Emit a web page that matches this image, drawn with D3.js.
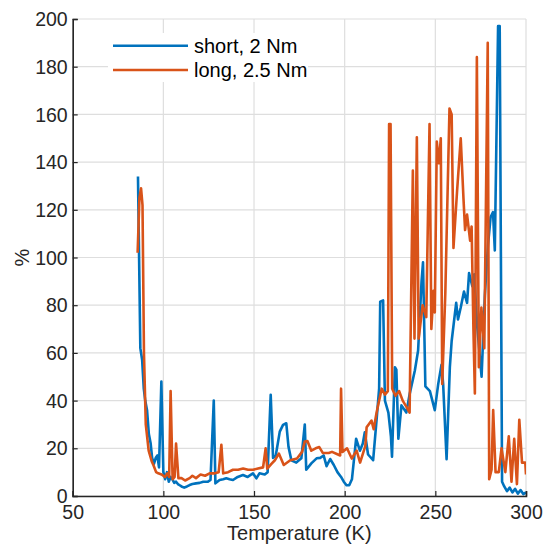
<!DOCTYPE html>
<html>
<head>
<meta charset="utf-8">
<script src="https://cdn.jsdelivr.net/npm/d3@7"></script>
<style>
  body { margin: 0; background: #fff; }
  svg { font-family: "Liberation Sans", Arial, sans-serif; }
  .tick text { fill: #262626; font-size: 19.5px; }
</style>
</head>
<body>
<svg class="chart" width="544" height="545"></svg>
<script>
const seriesNames = ['short, 2 Nm', 'long, 2.5 Nm'];

const xTicks = [50, 100, 150, 200, 250, 300];
const yTicks = [0, 20, 40, 60, 80, 100, 120, 140, 160, 180, 200];

// short, 2 Nm
const shortTemp = [86, 87.3, 88.3, 89.2, 90, 91, 92, 93, 93.8, 94.8, 95.8, 96.7, 97.6, 98.9, 100, 101, 102, 103, 104, 105,
  106, 107, 108, 109, 110, 111.5, 113, 114.5, 116, 118, 120, 122, 124.6, 126, 127.8, 128.7, 131, 133, 134.7, 136.5,
  138.4, 141, 143.9, 146.5, 149.4, 151.3, 153, 155.9, 157.5, 159.2, 160.5, 162, 164.2, 166, 167.8, 169, 170.6, 173.3, 176.1, 178,
  178.8, 181.6, 184.5, 186.5, 188.4, 190, 192, 194, 196, 198, 199.5, 201, 202.5, 204, 206.3, 208.4, 210, 211.1, 212.9, 215.7,
  217.6, 219, 219.6, 221.2, 222.2, 224.1, 225.5, 226.1, 227.7, 228.5, 229.6, 231.3, 234, 235.8, 238.7, 240.5, 242.4, 243.2, 244.5, 247,
  249.7, 251.6, 253.4, 254.3, 256.2, 258, 259, 261.5, 262.5, 264, 265.8, 267.5, 268.6, 270.4, 271.5, 273, 275.5, 277.3, 279, 280.5,
  281.8, 282.8, 284.6, 285.5, 286.8, 288, 289.5, 291, 292.5, 294, 295.5, 297, 298.5, 300];
const shortPct = [134, 62, 57, 45, 40, 36, 26, 22, 16, 13.5, 16, 17, 12, 48, 10, 7, 10, 6, 8, 7,
  5.5, 6, 5, 4.5, 4, 3.5, 4, 4.6, 5, 5.3, 5.5, 6, 6, 6.7, 40, 5.3, 6.7, 7, 7.4, 7,
  6.7, 8, 8.8, 8, 9.5, 7.4, 9.5, 9, 10, 42.4, 16, 17, 27, 29.8, 30.5, 20.7, 15, 14, 15.8, 30,
  11, 13.7, 15.8, 16, 17, 12.5, 15.5, 13, 10, 8, 6, 4.5, 4.5, 7, 24, 19, 22, 26.7, 17.4, 15,
  32, 45, 81.5, 82, 40, 35, 25, 16.5, 54, 53, 24, 38, 35, 42.6, 52.6, 61, 90, 98, 46, 44,
  36, 47, 55, 47, 15.4, 54, 65, 81, 74, 79, 85.7, 81, 93.5, 88, 93, 72, 50, 84, 105, 117,
  119, 103, 197, 197, 6, 4, 2, 3.5, 1.5, 3, 1, 2.5, 0.8, 1.5];

// long, 2.5 Nm
const longTemp = [85.8, 86.8, 87.7, 88.5, 89.3, 90.3, 91.9, 93.6, 94.5, 96, 97.2, 99, 100.9, 102.2, 103.2, 104, 105.1, 106.2, 107, 108.3,
  110, 112, 114.5, 116, 118, 120.5, 123, 125.5, 128.3, 130.5, 132, 133, 135.7, 138.4, 141.2, 144, 146.7, 149.4, 152.2, 155,
  156.4, 157.3, 159.6, 161.5, 163.7, 166.4, 170, 173.7, 176.5, 178, 179.5, 181.6, 184, 186, 188, 191.2, 193, 196, 197.5, 198,
  198.8, 201.3, 203.9, 206.6, 208.5, 211.4, 212.1, 214.8, 216, 217.6, 220.4, 222.2, 223.8, 224.5, 225.3, 226.2, 228, 230, 232, 234,
  235.8, 237.6, 238.5, 239.8, 240.8, 243, 245, 246.8, 247.8, 249, 249.7, 250.8, 252, 253, 253.8, 255.5, 257.8, 259, 260, 262,
  264, 265.5, 266.4, 267.5, 269.2, 270, 271, 271.8, 272.9, 274, 275.4, 277, 278.9, 279.7, 281, 281.9, 283.2, 285, 286.5, 288.6,
  290.5, 292, 293.5, 295, 296.3, 297.8, 299.6, 300];
const longPct = [102, 125, 129, 122, 60, 30, 19, 14.5, 13, 10, 9.5, 9, 8, 9.5, 8, 44, 7, 8, 22, 7.5,
  7.5, 6.5, 7.5, 8.5, 7.5, 9, 8.5, 9.5, 9.5, 10, 21.5, 9.5, 10, 11, 11, 11.5, 11, 11, 11.5, 12,
  20, 11.5, 13.5, 15, 17.8, 13, 15, 15.7, 18.5, 22.8, 23, 19, 20, 20.5, 18, 18, 18.5, 17.5, 17, 45,
  18.5, 20, 15.7, 19, 14, 21, 28.8, 31.6, 28, 35, 45, 42.5, 44, 156, 156, 45, 42, 44, 40, 37.5,
  35, 136.5, 66, 150.4, 66, 80, 75, 156, 70, 86, 77, 148.6, 139.5, 150, 47, 85, 162.5, 160, 104, 128,
  150, 125, 111.5, 118, 107, 113, 70, 43, 184, 54, 79, 62, 190, 7, 11, 36, 10, 10, 20, 10,
  25, 6, 24, 5, 32, 14, 14, 9];

const svg = d3.select('.chart');

const margin = { left: 72.7, top: 19, right: 18, bottom: 49 };
const width = +svg.attr('width') - margin.left - margin.right;
const height = +svg.attr('height') - margin.top - margin.bottom;

const x = d3.scaleLinear().domain([50, 300]).range([0, width]);
const y = d3.scaleLinear().domain([0, 200]).range([height, 0]);

const g = svg.append('g')
  .attr('transform', `translate(${margin.left},${margin.top})`);

// grid
g.append('g')
  .selectAll('line')
  .data(xTicks)
  .enter().append('line')
  .attr('x1', d => x(d)).attr('x2', d => x(d))
  .attr('y1', 0).attr('y2', height)
  .attr('stroke', '#dedede').attr('stroke-width', 1.2);

g.append('g')
  .selectAll('line')
  .data(yTicks)
  .enter().append('line')
  .attr('x1', 0).attr('x2', width)
  .attr('y1', d => y(d)).attr('y2', d => y(d))
  .attr('stroke', '#dedede').attr('stroke-width', 1.2);

const line = d3.line()
  .x(d => x(d[0]))
  .y(d => y(d[1]));

const colors = ['#0072BD', '#D95319'];
const series = [
  d3.zip(shortTemp, shortPct),
  d3.zip(longTemp, longPct)
];

g.append('defs').append('clipPath').attr('id', 'clip')
  .append('rect').attr('width', width).attr('height', height);

g.append('g')
  .attr('clip-path', 'url(#clip)')
  .selectAll('path')
  .data(series)
  .enter().append('path')
  .attr('d', line)
  .attr('fill', 'none')
  .attr('stroke', (d, i) => colors[i])
  .attr('stroke-width', 2.6)
  .attr('stroke-linejoin', 'round');

// axes
const xAxis = d3.axisBottom(x)
  .tickValues(xTicks)
  .tickSize(-5)
  .tickPadding(9);

const yAxis = d3.axisLeft(y)
  .tickValues(yTicks)
  .tickSize(-5)
  .tickPadding(5);

const xAxisG = g.append('g')
  .attr('transform', `translate(0,${height})`)
  .call(xAxis);
xAxisG.selectAll('.tick text').attr('dy', '0.72em');

const yAxisG = g.append('g').call(yAxis);
yAxisG.selectAll('.tick text').attr('dy', '0.34em');

[xAxisG, yAxisG].forEach(a => {
  a.select('.domain').attr('stroke', '#262626').attr('stroke-width', 1.6);
  a.selectAll('.tick line').attr('stroke', '#262626').attr('stroke-width', 1.2);
});

g.append('text')
  .attr('x', width / 2)
  .attr('y', height + 44)
  .attr('text-anchor', 'middle')
  .attr('fill', '#262626')
  .attr('font-size', 20)
  .text('Temperature (K)');

g.append('text')
  .attr('transform', `translate(${29 - margin.left},${height / 2}) rotate(-90)`)
  .attr('text-anchor', 'middle')
  .attr('fill', '#262626')
  .attr('font-size', 20)
  .text('%');

// legend
const legend = svg.append('g');
legend.append('rect')
  .attr('x', 108).attr('y', 33)
  .attr('width', 200).attr('height', 49)
  .attr('fill', '#fff');

seriesNames.forEach((name, i) => {
  const ly = 45.7 + i * 24.3;
  legend.append('line')
    .attr('x1', 113).attr('x2', 188)
    .attr('y1', ly).attr('y2', ly)
    .attr('stroke', colors[i])
    .attr('stroke-width', 2.6);
  legend.append('text')
    .attr('x', 194)
    .attr('y', ly + 7)
    .attr('fill', '#000')
    .attr('font-size', 20)
    .text(name);
});
</script>
</body>
</html>
